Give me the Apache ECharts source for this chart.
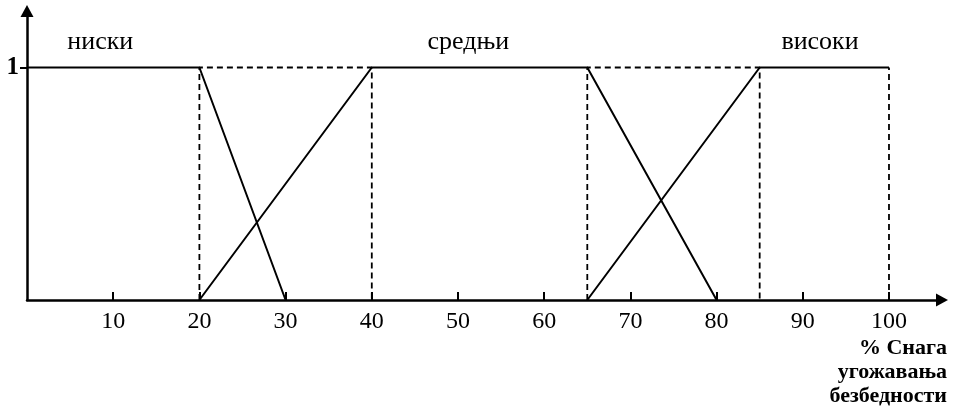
<!DOCTYPE html>
<html>
<head>
<meta charset="utf-8">
<script src="https://cdn.jsdelivr.net/npm/echarts@6/dist/echarts.min.js"></script>
<style>html,body{margin:0;padding:0;background:#fff}#c{width:957px;height:407px}</style>
</head>
<body>
<div id="c"></div>
<script>
// Data
const xTicks = [10, 20, 30, 40, 50, 60, 70, 80, 90, 100];
const yTicks = [1];
const lowSet = [[0, 1], [20, 1], [30, 0]];
const midSet = [[20, 0], [40, 1], [65, 1], [80, 0]];
const highSet = [[65, 0], [85, 1], [100, 1]];
const guideA = [[20, 0], [20, 1], [40, 1], [40, 0]];
const guideB = [[65, 0], [65, 1], [85, 1], [85, 0]];
const guideC = [[100, 0], [100, 1]];
const setNames = ['ниски', 'средњи', 'високи'];
const setLabelX = [8.5, 51.2, 92];
const axisTitle = ['% Снага', 'угожавања', 'безбедности'];

const chart = echarts.init(document.getElementById('c'));
const serif = '"Liberation Serif", "DejaVu Serif", serif';
const solid = d => ({type: 'line', data: d, symbol: 'none', silent: true, z: 3,
  lineStyle: {color: '#000', width: 2}});
const dashed = d => ({type: 'line', data: d, symbol: 'none', silent: true, z: 2,
  lineStyle: {color: '#000', width: 1.8, type: [6, 4]}});

const option = {
  animation: false,
  backgroundColor: '#fff',
  grid: {left: 27, right: 15, top: 11, bottom: 107, containLabel: false},
  xAxis: {
    type: 'value', min: 0, max: 106.15,
    splitLine: {show: false},
    axisLine: {lineStyle: {color: '#000', width: 2.5}, symbol: ['none', 'triangle'], symbolSize: [13, 12]},
    axisTick: {inside: true, length: 8, lineStyle: {color: '#000', width: 2}, customValues: xTicks},
    axisLabel: {customValues: xTicks, color: '#000', fontFamily: serif, fontSize: 24, margin: 10}
  },
  yAxis: {
    type: 'value', min: 0, max: 1.243,
    splitLine: {show: false},
    axisLine: {lineStyle: {color: '#000', width: 2.5}, symbol: ['none', 'triangle'], symbolSize: [13, 12]},
    axisTick: {length: 7, lineStyle: {color: '#000', width: 2}, customValues: yTicks},
    axisLabel: {customValues: yTicks, color: '#000', fontFamily: serif, fontSize: 25, fontWeight: 'bold', margin: 8}
  },
  series: [solid(lowSet), solid(midSet), solid(highSet), dashed(guideA), dashed(guideB), dashed(guideC)]
};
chart.setOption(option);

const graphics = [];
setNames.forEach((n, i) => {
  const p = chart.convertToPixel({gridIndex: 0}, [setLabelX[i], 1.11]);
  graphics.push({type: 'text', x: p[0], y: p[1], style: {text: n, fill: '#000', font: '26px ' + serif, textAlign: 'center', textVerticalAlign: 'middle'}});
});
axisTitle.forEach((t, i) => {
  graphics.push({type: 'text', right: 10, top: 337 + i * 24, style: {text: t, fill: '#000', font: 'bold 22px ' + serif, textAlign: 'right'}});
});
chart.setOption({graphic: graphics});
</script>
</body>
</html>
